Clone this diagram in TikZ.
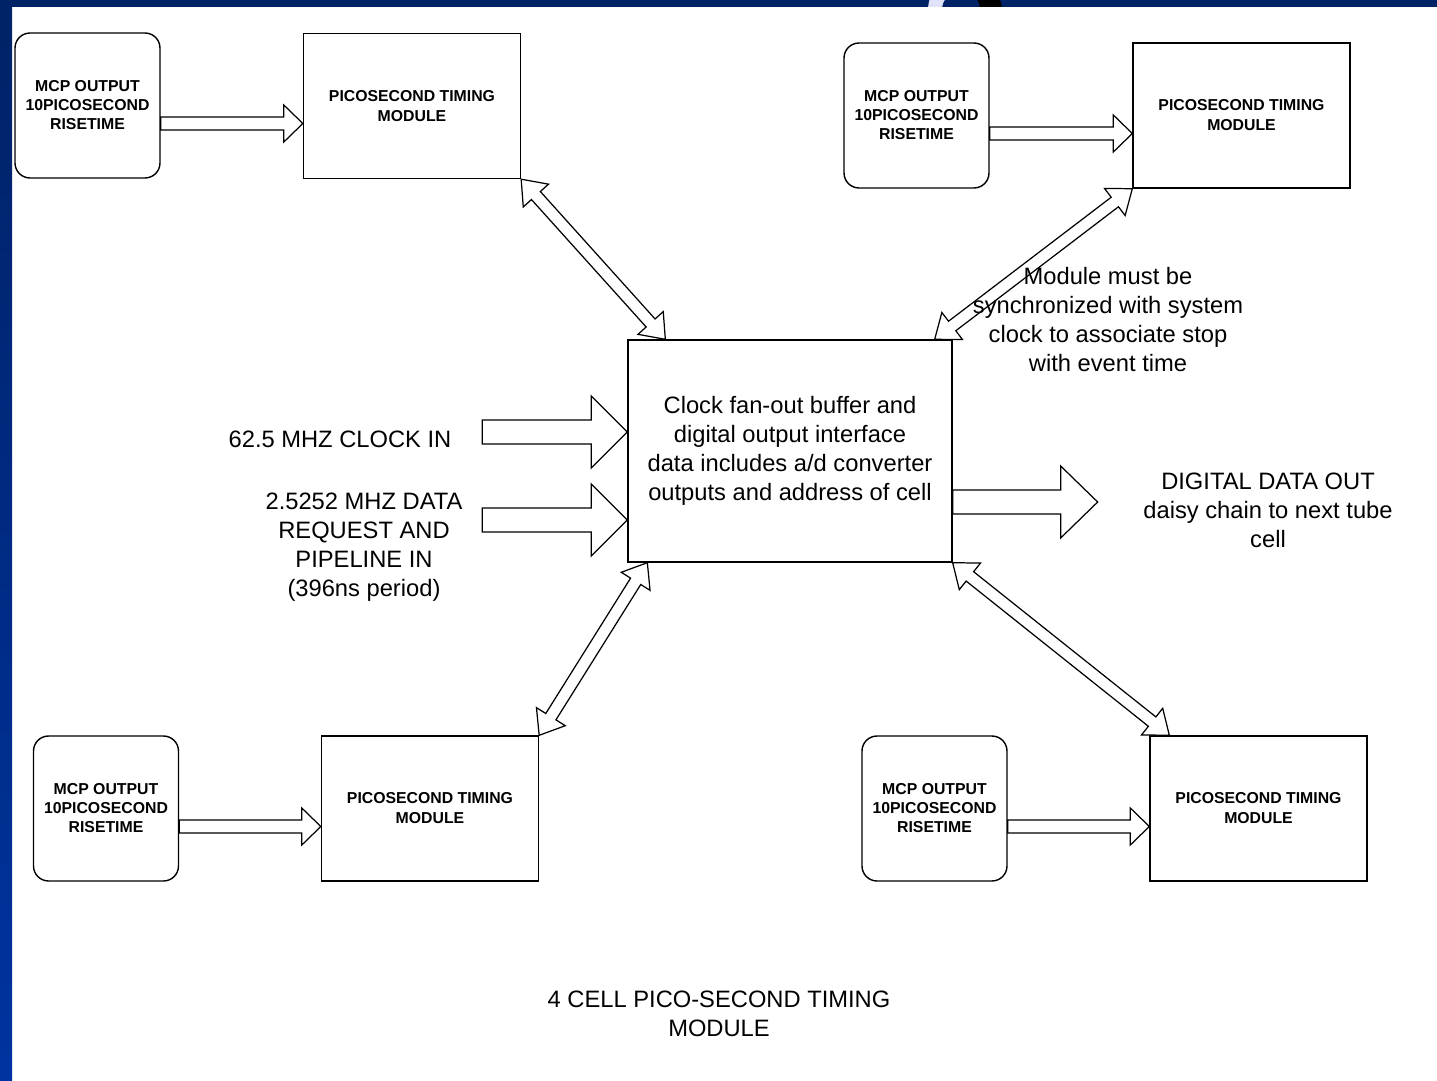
\documentclass[tikz,border=0pt]{standalone}
\usepackage{fontspec}
\setmainfont{Liberation Sans}
\usepackage{tikz}
\usetikzlibrary{calc,positioning}
\usepackage{xcolor}

\definecolor{slidenavy}{RGB}{0,34,102}
\definecolor{slideblue}{RGB}{0,51,160}
\definecolor{logolav}{RGB}{224,226,250}

% hollow block arrow: from, to, shaft half width, head half width, head length
\newcommand{\hollowarrow}[5]{%
  \coordinate (ha) at ($(#2)!#5!(#1)$);
  \draw[blockline] ($(#1)!#3!90:(#2)$) -- ($(ha)!#3!-90:(#1)$) -- ($(ha)!#4!-90:(#1)$)
    -- (#2) -- ($(ha)!#4!90:(#1)$) -- ($(ha)!#3!90:(#1)$) -- ($(#1)!#3!-90:(#2)$) -- cycle;}

% hollow block arrow with two heads
\newcommand{\hollowboth}[5]{%
  \coordinate (hb1) at ($(#1)!#5!(#2)$);
  \coordinate (hb2) at ($(#2)!#5!(#1)$);
  \draw[blockline] (#1) -- ($(hb1)!#4!90:(#2)$) -- ($(hb1)!#3!90:(#2)$)
    -- ($(hb2)!#3!-90:(#1)$) -- ($(hb2)!#4!-90:(#1)$) -- (#2)
    -- ($(hb2)!#4!90:(#1)$) -- ($(hb2)!#3!90:(#1)$)
    -- ($(hb1)!#3!-90:(#2)$) -- ($(hb1)!#4!-90:(#2)$) -- cycle;}

\begin{document}
\begin{tikzpicture}[x=0.02cm, y=-0.02cm,
  mcpbox/.style={draw, line width=0.8pt, rounded corners=0.3cm, minimum width=2.9cm,
    minimum height=2.9cm, inner sep=0pt, align=center,
    font=\fontsize{9}{10.8}\selectfont\bfseries},
  timingbox/.style={draw, line width=0.8pt, minimum width=4.34cm, minimum height=2.9cm,
    inner sep=0pt, align=center, font=\fontsize{9}{11.4}\selectfont\bfseries},
  bufferbox/.style={draw, line width=0.8pt, minimum width=6.48cm, minimum height=4.44cm,
    inner sep=0pt, align=center, font=\fontsize{13.5}{16.5}\selectfont},
  notetext/.style={inner sep=0pt, align=center, font=\fontsize{13.5}{16.5}\selectfont},
  blockline/.style={draw, fill=white, line width=0.7pt, line join=miter}]

  \useasboundingbox (0,0) rectangle (1437,1081);
  \fill[white] (0,0) rectangle (1437,1081);
  \fill[slidenavy] (0,0) rectangle (1437,7);
  \shade[top color=slidenavy, bottom color=slideblue] (0,0) rectangle (12,1081);
  \begin{scope}
    \clip (0,0) rectangle (1437,7);
    \fill[logolav] (963,10) circle[radius=0.7cm];
    \fill[black] (975,10) circle[radius=0.54cm];
    \fill[slidenavy] (961,10) circle[radius=0.38cm];
  \end{scope}

  \node[mcpbox] (mcpa) at (87.5,105.5) {MCP OUTPUT\\10PICOSECOND\\RISETIME};
  \node[timingbox] (tma) at (412,106) {PICOSECOND TIMING\\MODULE};

  \node[mcpbox] (mcpb) at (916.5,115.5) {MCP OUTPUT\\10PICOSECOND\\RISETIME};
  \node[timingbox] (tmb) at (1241.5,115.5) {PICOSECOND TIMING\\MODULE};

  \node[mcpbox] (mcpc) at (106,808.5) {MCP OUTPUT\\10PICOSECOND\\RISETIME};
  \node[timingbox] (tmc) at (430,808.5) {PICOSECOND TIMING\\MODULE};

  \node[mcpbox] (mcpd) at (934.5,808.5) {MCP OUTPUT\\10PICOSECOND\\RISETIME};
  \node[timingbox] (tmd) at (1258.5,808.5) {PICOSECOND TIMING\\MODULE};

  \node[bufferbox] (cen) at (790,451) {Clock fan-out buffer and\\digital output interface\\data includes a/d converter\\outputs and address of cell};

  \coordinate (ma1) at ($(mcpa.east)+(0,18)$);
  \coordinate (ma2) at ($(mcpa.east -| tma.west)+(0,18)$);
  \coordinate (mb1) at ($(mcpb.east)+(0,18)$);
  \coordinate (mb2) at ($(mcpb.east -| tmb.west)+(0,18)$);
  \coordinate (mc1) at ($(mcpc.east)+(0,18)$);
  \coordinate (mc2) at ($(mcpc.east -| tmc.west)+(0,18)$);
  \coordinate (md1) at ($(mcpd.east)+(0,18)$);
  \coordinate (md2) at ($(mcpd.east -| tmd.west)+(0,18)$);
  \hollowarrow{ma1}{ma2}{0.13cm}{0.37cm}{0.38cm}
  \hollowarrow{mb1}{mb2}{0.13cm}{0.37cm}{0.38cm}
  \hollowarrow{mc1}{mc2}{0.13cm}{0.37cm}{0.38cm}
  \hollowarrow{md1}{md2}{0.13cm}{0.37cm}{0.38cm}

  \coordinate (clk1) at ($(cen.west)+(-145,-19)$);
  \coordinate (clk2) at ($(cen.west)+(0,-19)$);
  \coordinate (req1) at ($(cen.west)+(-145,69)$);
  \coordinate (req2) at ($(cen.west)+(0,69)$);
  \coordinate (out1) at ($(cen.east)+(0,51)$);
  \coordinate (out2) at ($(cen.east)+(145,51)$);
  \hollowarrow{clk1}{clk2}{0.24cm}{0.72cm}{0.72cm}
  \hollowarrow{req1}{req2}{0.24cm}{0.72cm}{0.72cm}
  \hollowarrow{out1}{out2}{0.24cm}{0.72cm}{0.74cm}

  \coordinate (cna) at ($(cen.north west)+(38,0)$);
  \coordinate (cnb) at ($(cen.north east)+(-18,0)$);
  \coordinate (csc) at ($(cen.south west)+(20,0)$);
  \coordinate (tmdin) at ($(tmd.north west)+(20,0)$);
  \hollowboth{tma.south east}{cna}{0.12cm}{0.34cm}{0.44cm}
  \hollowboth{tmb.south west}{cnb}{0.12cm}{0.34cm}{0.44cm}
  \hollowboth{csc}{tmc.north east}{0.12cm}{0.34cm}{0.44cm}
  \hollowboth{cen.south east}{tmdin}{0.12cm}{0.34cm}{0.44cm}

  \node[notetext] (clockin) at (340,439) {62.5 MHZ CLOCK IN};
  \node[notetext] (datain) at (364,547.5) {2.5252 MHZ DATA\\REQUEST AND\\PIPELINE IN\\(396ns period)};
  \node[notetext] (syncnote) at (1108,320) {Module must be\\synchronized with system\\clock to associate stop\\with event time};
  \node[notetext] (dataout) at (1268,510) {DIGITAL DATA OUT\\daisy chain to next tube\\cell};
  \node[notetext] (caption) at (719,1014) {4 CELL PICO-SECOND TIMING\\MODULE};

\end{tikzpicture}
\end{document}
